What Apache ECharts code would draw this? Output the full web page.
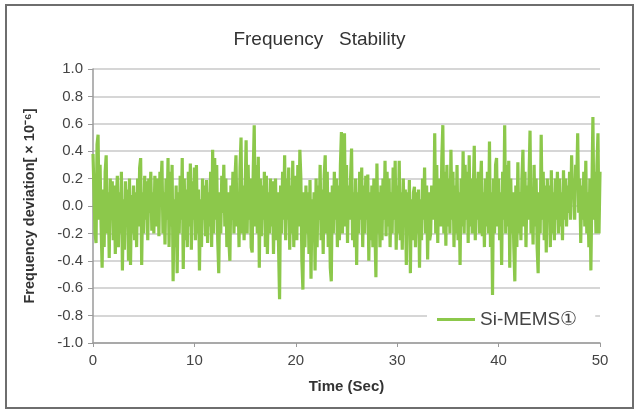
<!DOCTYPE html>
<html>
<head>
<meta charset="utf-8">
<script src="https://cdn.jsdelivr.net/npm/echarts@6/dist/echarts.min.js"></script>
<style>
  html, body { margin: 0; padding: 0; background: #fff; }
  #chart { width: 639px; height: 413px; }
</style>
</head>
<body>
<div id="chart"></div>
<script>
// sampling step of the record (sec)
const step = 0.1;

// frequency deviation, one row per second
const deviation = [
  0.38, 0.1, -0.2, -0.27, 0.45, 0.52, -0.1, 0.3, -0.15, -0.45,
  0.12, -0.3, 0.25, 0.37, -0.2, 0.1, -0.38, 0.2, -0.1, 0.18,
  -0.25, 0.15, -0.35, 0.05, 0.22, -0.3, 0.1, -0.2, 0.25, -0.47,
  0.05, -0.32, 0.18, -0.1, 0.12, -0.4, 0.2, -0.43, 0.08, -0.2,
  0.15, -0.25, 0.1, -0.3, 0.2, -0.15, 0.28, 0.35, -0.43, 0.1,
  -0.2, 0.22, -0.1, 0.18, -0.25, 0.2, -0.05, 0.25, -0.18, 0.1,
  -0.2, 0.22, 0.05, -0.15, 0.2, -0.22, 0.25, 0.15, 0.33, -0.2,
  0.1, -0.28, 0.2, -0.1, 0.35, -0.3, 0.25, -0.15, 0.3, -0.55,
  0.05, -0.3, 0.15, -0.49, 0.1, -0.2, 0.22, -0.1, 0.35, -0.46,
  0.2, -0.25, 0.12, -0.3, 0.25, -0.15, 0.31, -0.32, 0.18, -0.1,
  0.28, -0.25, 0.3, -0.2, 0.12, -0.47, 0.05, -0.3, 0.2, -0.1,
  0.15, -0.22, 0.19, -0.27, 0.1, -0.15, 0.25, -0.3, 0.41, -0.2,
  0.35, -0.1, 0.3, -0.25, -0.49, 0.1, -0.2, 0.22, -0.05, 0.3,
  -0.15, 0.2, -0.3, 0.1, -0.25, -0.4, 0.15, -0.1, 0.25, -0.2,
  0.2, 0.37, -0.15, 0.1, -0.3, 0.28, 0.5, -0.2, 0.15, -0.25,
  0.1, 0.48, -0.2, 0.3, -0.1, 0.2, -0.3, -0.34, 0.25, 0.59,
  -0.15, 0.3, -0.2, 0.36, -0.45, 0.2, -0.22, 0.15, -0.1, 0.25,
  -0.3, 0.22, -0.35, 0.1, -0.2, 0.2, -0.15, 0.18, -0.35, 0.05,
  0.2, -0.25, 0.1, -0.3, -0.68, 0.15, -0.2, 0.25, -0.1, 0.37,
  -0.25, 0.2, -0.1, 0.28, -0.32, 0.15, -0.2, 0.33, -0.3, 0.1,
  0.22, -0.25, 0.3, -0.15, 0.41, 0.2, -0.4, -0.61, 0.1, -0.3,
  0.15, -0.2, 0.1, -0.35, 0.19, -0.53, 0.05, -0.25, 0.1, -0.47,
  0.2, -0.3, 0.15, -0.1, 0.3, -0.25, 0.12, -0.35, 0.22, 0.37,
  -0.2, 0.25, -0.3, 0.1, -0.45, -0.55, 0.15, -0.2, 0.25, -0.1,
  0.2, -0.3, 0.15, -0.25, 0.3, 0.54, -0.2, 0.45, 0.53, -0.15,
  0.3, -0.27, 0.15, -0.1, 0.2, 0.42, -0.25, 0.1, -0.3, 0.2,
  -0.43, 0.1, -0.2, 0.25, -0.1, 0.28, -0.3, 0.15, -0.2, 0.22,
  -0.1, 0.23, -0.4, 0.1, -0.25, 0.15, -0.3, 0.2, -0.15, -0.52,
  0.31, -0.2, 0.1, -0.3, 0.15, -0.25, 0.2, -0.1, 0.33, -0.22,
  0.25, -0.15, 0.2, -0.3, 0.1, -0.2, 0.28, -0.1, 0.33, -0.32,
  0.15, -0.2, 0.33, -0.25, 0.1, -0.32, 0.2, -0.15, 0.12, -0.43,
  0.1, -0.2, 0.19, -0.49, 0.05, -0.25, 0.1, 0.14, -0.3, 0.1,
  -0.2, 0.12, -0.45, 0.05, -0.25, 0.2, -0.1, 0.28, -0.2, 0.15,
  -0.39, 0.1, -0.25, -0.2, 0.15, 0.05, -0.1, 0.53, -0.2, 0.3,
  -0.27, 0.2, 0.1, -0.15, 0.35, 0.59, -0.2, 0.25, -0.29, 0.3,
  -0.15, 0.2, -0.2, 0.41, -0.1, 0.25, -0.3, 0.15, -0.2, 0.3,
  -0.25, 0.1, -0.43, 0.2, -0.15, 0.4, -0.2, 0.3, -0.1, 0.25,
  -0.27, 0.37, -0.15, 0.2, -0.2, 0.1, 0.44, -0.25, 0.2, -0.1,
  0.25, -0.2, 0.15, 0.33, -0.22, 0.1, -0.3, 0.2, -0.15, 0.25,
  -0.2, 0.47, -0.3, 0.1, -0.65, 0.2, -0.2, 0.3, 0.35, -0.15,
  0.2, -0.25, 0.1, -0.43, 0.25, -0.1, 0.59, -0.2, 0.3, -0.15,
  0.33, -0.45, 0.2, -0.2, 0.1, -0.3, -0.55, 0.15, -0.3, 0.32,
  -0.2, 0.1, -0.25, 0.2, 0.41, -0.15, 0.25, -0.3, 0.15, -0.1,
  0.2, 0.55, -0.2, 0.1, -0.28, 0.3, -0.15, 0.2, -0.3, -0.49,
  0.1, -0.2, 0.52, -0.1, 0.25, -0.25, 0.15, -0.34, 0.2, -0.1,
  0.15, -0.3, 0.26, -0.2, 0.1, -0.25, 0.2, -0.1, 0.25, -0.2,
  0.2, -0.15, 0.1, -0.25, 0.26, -0.1, 0.2, -0.15, 0.15, -0.05,
  0.25, -0.1, 0.37, 0.05, 0.2, -0.1, 0.3, 0.15, 0.53, -0.05,
  0.2, -0.27, 0.15, -0.1, 0.25, -0.15, 0.33, -0.2, 0.1, -0.3,
  0.2, -0.47, 0.1, 0.65, -0.1, 0.25, -0.2, 0.3, 0.53, -0.2,
  0.25
];

const seriesName = 'Si-MEMS\u2460';
const titleText = 'Frequency   Stability';
const xName = 'Time (Sec)';
const yName = 'Frequency deviation[ \u00d7 10\u207b\u2076]';

const points = deviation.map((v, i) => [+(i * step).toFixed(1), v]);

const chart = echarts.init(document.getElementById('chart'));

const option = {
  animation: false,
  backgroundColor: '#fff',
  textStyle: { fontFamily: 'Liberation Sans, Arial, sans-serif' },
  graphic: [{
    type: 'rect',
    shape: { x: 6, y: 5, width: 627, height: 403 },
    style: { fill: 'none', stroke: '#6e6e6e', lineWidth: 2 },
    z: -1
  }],
  title: {
    text: titleText,
    left: 'center',
    top: 25,
    textStyle: { fontSize: 19, fontWeight: 'normal', color: '#333' }
  },
  grid: { left: 93, right: 39, top: 69, bottom: 70 },
  legend: {
    data: [seriesName],
    left: 427,
    top: 304,
    backgroundColor: '#fff',
    padding: [6, 18, 6, 10],
    itemWidth: 38,
    itemHeight: 3,
    itemGap: 4,
    icon: 'rect',
    textStyle: { fontSize: 19, color: '#444' }
  },
  xAxis: {
    type: 'value',
    min: 0,
    max: 50,
    interval: 10,
    name: xName,
    nameLocation: 'middle',
    nameGap: 36,
    nameTextStyle: { fontSize: 15, fontWeight: 'bold', color: '#333' },
    axisLine: { onZero: false, lineStyle: { color: '#9a9a9a', width: 1.5 } },
    axisTick: { show: true, length: 4, lineStyle: { color: '#9a9a9a' } },
    axisLabel: { fontSize: 15, color: '#444', margin: 10 },
    splitLine: { show: false }
  },
  yAxis: {
    type: 'value',
    min: -1,
    max: 1,
    interval: 0.2,
    name: yName,
    nameLocation: 'middle',
    nameRotate: 90,
    nameGap: 56,
    nameTextStyle: { fontSize: 14.5, fontWeight: 'bold', color: '#333' },
    axisLine: { show: true, lineStyle: { color: '#9a9a9a', width: 1.5 } },
    axisTick: { show: true, length: 5, lineStyle: { color: '#9a9a9a' } },
    axisLabel: {
      fontSize: 15,
      color: '#444',
      margin: 10,
      formatter: v => v.toFixed(1)
    },
    splitLine: { lineStyle: { color: '#c8c8c8', width: 1.5 } }
  },
  series: [{
    name: seriesName,
    type: 'line',
    symbol: 'none',
    lineStyle: { color: '#8cc84b', width: 3.2 },
    itemStyle: { color: '#8cc84b' },
    data: points
  }]
};

chart.setOption(option);
</script>
</body>
</html>
